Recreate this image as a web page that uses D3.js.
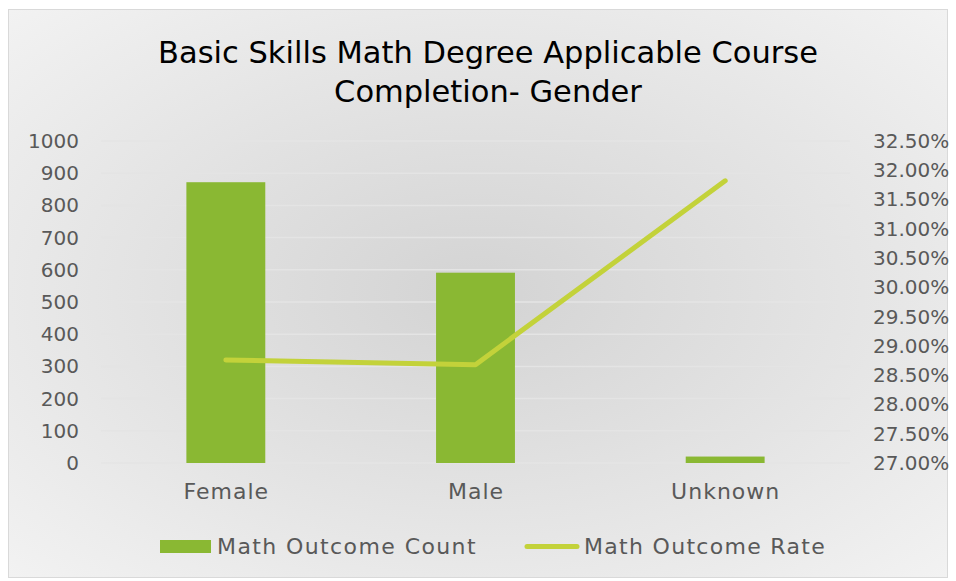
<!DOCTYPE html>
<html>
<head>
<meta charset="utf-8">
<script src="https://cdn.jsdelivr.net/npm/d3@7"></script>
<style>
  body { margin: 0; background: #fff; }
  svg text { font-family: "DejaVu Sans", sans-serif; }
</style>
</head>
<body>
<div id="chart"></div>
<script>
(function() {
    // Data
    const categories = ["Female", "Male", "Unknown"];
    const counts = [872, 591, 20];
    const rates = [0.2876, 0.2868, 0.3182];
    const countTicks = [0, 100, 200, 300, 400, 500, 600, 700, 800, 900, 1000];
    const rateTicks = [0.27, 0.275, 0.28, 0.285, 0.29, 0.295, 0.30, 0.305, 0.31, 0.315, 0.32, 0.325];
    const seriesNames = ["Math Outcome Count", "Math Outcome Rate"];
    const titleLines = ["Basic Skills Math Degree Applicable Course", "Completion- Gender"];

    const W = 956, H = 581;
    const plot = {left: 101, right: 850, top: 141, bottom: 463};
    const barColor = "#8ab833";
    const lineColor = "#c3d23a";
    const textColor = "#595959";

    const svg = d3.select("#chart")
        .append("svg")
        .attr("width", W)
        .attr("height", H);

    // Chart background: soft radial gradient
    const defs = svg.append("defs");
    const grad = defs.append("radialGradient")
        .attr("id", "bg-grad")
        .attr("cx", "50%").attr("cy", "50%").attr("r", "75%");
    grad.append("stop").attr("offset", "0%").attr("stop-color", "#d3d3d3");
    grad.append("stop").attr("offset", "100%").attr("stop-color", "#f4f4f4");

    svg.append("rect")
        .attr("x", 8.5).attr("y", 9.5)
        .attr("width", 939).attr("height", 568)
        .attr("fill", "url(#bg-grad)")
        .attr("stroke", "#d9d9d9")
        .attr("stroke-width", 1);

    // Scales
    const x = d3.scaleBand()
        .domain(categories)
        .range([plot.left, plot.right])
        .paddingInner(0.684)
        .paddingOuter(0.342);

    const xCenter = d3.scalePoint()
        .domain(categories)
        .range([plot.left, plot.right])
        .padding(0.5);

    const yCount = d3.scaleLinear()
        .domain([0, 1000])
        .range([plot.bottom, plot.top]);

    const yRate = d3.scaleLinear()
        .domain([0.27, 0.325])
        .range([plot.bottom, plot.top]);

    // Gridlines
    svg.append("g")
        .selectAll("line")
        .data(countTicks)
        .join("line")
        .attr("x1", plot.left)
        .attr("x2", plot.right)
        .attr("y1", d => yCount(d))
        .attr("y2", d => yCount(d))
        .attr("stroke", "#e4e4e4")
        .attr("stroke-width", 1.5);

    // Left axis
    const leftAxis = svg.append("g")
        .attr("transform", `translate(${plot.left}, 0)`)
        .call(d3.axisLeft(yCount).tickValues(countTicks).tickSize(0).tickPadding(22)
            .tickFormat(d3.format("d")));
    leftAxis.select(".domain").remove();
    leftAxis.selectAll("text")
        .attr("fill", textColor)
        .style("font-size", "20px");

    // Right axis
    const rightAxis = svg.append("g")
        .attr("transform", `translate(${plot.right}, 0)`)
        .call(d3.axisRight(yRate).tickValues(rateTicks).tickSize(0).tickPadding(23)
            .tickFormat(d3.format(".2%")));
    rightAxis.select(".domain").remove();
    rightAxis.selectAll("text")
        .attr("fill", textColor)
        .style("font-size", "20px");

    // Bottom axis (category labels)
    const bottomAxis = svg.append("g")
        .attr("transform", `translate(0, ${plot.bottom})`)
        .call(d3.axisBottom(xCenter).tickSize(0).tickPadding(20));
    bottomAxis.select(".domain").remove();
    bottomAxis.selectAll("text")
        .attr("fill", textColor)
        .style("font-size", "22px")
        .style("letter-spacing", "1px");

    // Bars
    svg.append("g")
        .selectAll("rect")
        .data(categories)
        .join("rect")
        .attr("x", d => x(d))
        .attr("width", x.bandwidth())
        .attr("y", (d, i) => yCount(counts[i]))
        .attr("height", (d, i) => yCount(0) - yCount(counts[i]))
        .attr("fill", barColor);

    // Rate line
    const line = d3.line()
        .x((d, i) => xCenter(categories[i]))
        .y(d => yRate(d));

    svg.append("path")
        .datum(rates)
        .attr("d", line)
        .attr("fill", "none")
        .attr("stroke", lineColor)
        .attr("stroke-width", 5)
        .attr("stroke-linecap", "round")
        .attr("stroke-linejoin", "round");

    // Title
    svg.append("text")
        .attr("x", 488)
        .attr("text-anchor", "middle")
        .attr("fill", "#000")
        .style("font-size", "30.5px")
        .selectAll("tspan")
        .data(titleLines)
        .join("tspan")
        .attr("x", 488)
        .attr("y", (d, i) => 63 + i * 39)
        .text(d => d);

    // Legend
    const legend = svg.append("g");
    legend.append("rect")
        .attr("x", 160).attr("y", 540)
        .attr("width", 51).attr("height", 13)
        .attr("fill", barColor);
    legend.append("text")
        .attr("x", 217).attr("y", 554)
        .attr("fill", textColor)
        .style("font-size", "22px")
        .style("letter-spacing", "1.4px")
        .text(seriesNames[0]);
    legend.append("line")
        .attr("x1", 527).attr("x2", 577)
        .attr("y1", 546.5).attr("y2", 546.5)
        .attr("stroke", lineColor)
        .attr("stroke-width", 5)
        .attr("stroke-linecap", "round");
    legend.append("text")
        .attr("x", 584).attr("y", 554)
        .attr("fill", textColor)
        .style("font-size", "22px")
        .style("letter-spacing", "1.3px")
        .text(seriesNames[1]);
})();
</script>
</body>
</html>
